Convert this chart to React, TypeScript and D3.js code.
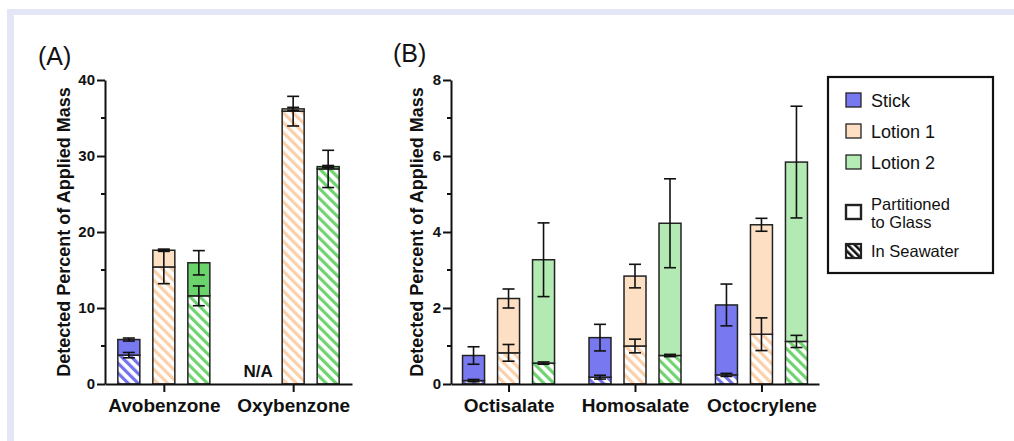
import React, { useRef, useEffect } from 'react';
import * as d3 from 'd3';

const FONT = '"Liberation Sans", Arial, Helvetica, sans-serif';

const seriesNames = ['Stick', 'Lotion 1', 'Lotion 2'];

// Panel A: rows = series (Stick, Lotion 1, Lotion 2), columns = categories
const catsA = ['Avobenzone', 'Oxybenzone'];
const seaA = [[3.8, null], [15.4, 35.9], [11.6, 28.3]];
const seaErrA = [[0.35, null], [2.2, 1.95], [1.3, 2.45]];
const glassA = [[2.05, null], [2.2, 0.3], [4.35, 0.3]];
const totalErrA = [[0.2, null], [0.15, 0.2], [1.6, 0.15]];
const ticksA = [0, 10, 20, 30, 40];
const minorA = [5, 15, 25, 35];

// Panel B
const catsB = ['Octisalate', 'Homosalate', 'Octocrylene'];
const seaB = [[0.09, 0.18, 0.24], [0.82, 1.0, 1.31], [0.55, 0.75, 1.12]];
const seaErrB = [[0.03, 0.05, 0.04], [0.22, 0.18, 0.43], [0.03, 0.03, 0.16]];
const glassB = [[0.66, 1.04, 1.84], [1.43, 1.84, 2.88], [2.72, 3.48, 4.72]];
const totalErrB = [[0.23, 0.35, 0.55], [0.25, 0.31, 0.17], [0.97, 1.17, 1.47]];
const ticksB = [0, 2, 4, 6, 8];
const minorB = [1, 3, 5, 7];

const solidA = ['#7878f0', '#fde0c3', '#6bd36b'];
const solidB = ['#7878f0', '#fde0c3', '#b3eab3'];
const hatchColors = ['#7373ee', '#fbd0a8', '#6fd46f'];
const legendColors = ['#7878f0', '#fde0c3', '#b5ebb5'];

function drawPanel(svg, cfg) {
  const g = svg.append('g');
  const y = d3.scaleLinear().domain([0, cfg.max]).range([384, 80]);
  const x = d3.scalePoint().domain(cfg.cats).range([cfg.x0, cfg.x1]).padding(0.455);
  const inner = d3.scalePoint().domain(seriesNames).range([-35, 35]);
  const bw = 22;
  const cap = 6;

  const errBar = (cx, m, e) => {
    g.append('line').attr('x1', cx).attr('x2', cx).attr('y1', y(m - e)).attr('y2', y(m + e))
      .attr('stroke', '#111').attr('stroke-width', 1.6);
    [m - e, m + e].forEach(v => {
      g.append('line').attr('x1', cx - cap).attr('x2', cx + cap).attr('y1', y(v)).attr('y2', y(v))
        .attr('stroke', '#111').attr('stroke-width', 1.6);
    });
  };

  seriesNames.forEach((s, si) => {
    cfg.cats.forEach((c, ci) => {
      const sea = cfg.sea[si][ci];
      if (sea == null) return;
      const glass = cfg.glass[si][ci];
      const cx = x(c) + inner(s);
      g.append('rect')
        .attr('x', cx - bw / 2).attr('y', y(sea))
        .attr('width', bw).attr('height', y(0) - y(sea))
        .attr('fill', `url(#hatch${si})`)
        .attr('stroke', '#222').attr('stroke-width', 1.5);
      g.append('rect')
        .attr('x', cx - bw / 2).attr('y', y(sea + glass))
        .attr('width', bw).attr('height', y(sea) - y(sea + glass))
        .attr('fill', cfg.solid[si])
        .attr('stroke', '#222').attr('stroke-width', 1.5);
    });
  });

  seriesNames.forEach((s, si) => {
    cfg.cats.forEach((c, ci) => {
      const sea = cfg.sea[si][ci];
      if (sea == null) return;
      const cx = x(c) + inner(s);
      errBar(cx, sea, cfg.seaErr[si][ci]);
      errBar(cx, sea + cfg.glass[si][ci], cfg.totalErr[si][ci]);
    });
  });

  // y axis
  const yAxis = g.append('g').attr('transform', `translate(${cfg.x0},0)`)
    .call(d3.axisLeft(y).tickValues(cfg.ticks).tickSize(8).tickSizeOuter(0).tickPadding(2));
  yAxis.selectAll('text').attr('font-family', FONT).attr('font-size', 15).attr('font-weight', 'bold').attr('fill', '#111');
  yAxis.selectAll('line').attr('stroke', '#111').attr('stroke-width', 2);
  yAxis.select('.domain').attr('stroke', '#111').attr('stroke-width', 2);
  cfg.minor.forEach(v => {
    g.append('line').attr('x1', cfg.x0 - 4).attr('x2', cfg.x0).attr('y1', y(v)).attr('y2', y(v))
      .attr('stroke', '#111').attr('stroke-width', 2);
  });

  // x axis
  const xAxis = g.append('g').attr('transform', 'translate(0,384)')
    .call(d3.axisBottom(x).tickSize(8).tickSizeOuter(0).tickPadding(7));
  xAxis.selectAll('text').attr('font-family', FONT).attr('font-size', 19).attr('font-weight', 'bold').attr('fill', '#111');
  xAxis.selectAll('line').attr('stroke', '#111').attr('stroke-width', 2);
  xAxis.select('.domain').attr('stroke', '#111').attr('stroke-width', 2.2);

  g.append('text')
    .attr('transform', `translate(${cfg.labelX},232) rotate(-90)`)
    .attr('text-anchor', 'middle')
    .attr('font-family', FONT).attr('font-size', 18).attr('font-weight', 'bold').attr('fill', '#111')
    .text('Detected Percent of Applied Mass');

  g.append('text')
    .attr('x', cfg.tagX).attr('y', cfg.tagY)
    .attr('font-family', FONT).attr('font-size', 25).attr('fill', '#111')
    .text(cfg.tag);

  return { x, y, inner };
}

function Chart() {
  const ref = useRef(null);

  useEffect(() => {
    const svg = d3.select(ref.current);
    svg.selectAll('*').remove();

    const defs = svg.append('defs');
    hatchColors.forEach((col, i) => {
      const p = defs.append('pattern').attr('id', `hatch${i}`)
        .attr('patternUnits', 'userSpaceOnUse').attr('width', 7).attr('height', 7)
        .attr('patternTransform', 'rotate(-45)');
      p.append('rect').attr('width', 7).attr('height', 7).attr('fill', '#fff');
      p.append('rect').attr('width', 3.2).attr('height', 7).attr('fill', col);
    });
    const lp = defs.append('pattern').attr('id', 'hatchLegend')
      .attr('patternUnits', 'userSpaceOnUse').attr('width', 5).attr('height', 5)
      .attr('patternTransform', 'rotate(-45)');
    lp.append('rect').attr('width', 5).attr('height', 5).attr('fill', '#fff');
    lp.append('rect').attr('width', 2.6).attr('height', 5).attr('fill', '#111');

    svg.append('rect').attr('width', 1014).attr('height', 441).attr('fill', '#fff');
    svg.append('rect').attr('x', 7).attr('y', 9).attr('width', 1007).attr('height', 6).attr('fill', '#e3e6f4');
    svg.append('rect').attr('x', 7).attr('y', 9).attr('width', 7).attr('height', 432).attr('fill', '#e3e6f4');

    const a = drawPanel(svg, {
      cats: catsA, sea: seaA, seaErr: seaErrA, glass: glassA, totalErr: totalErrA,
      max: 40, ticks: ticksA, minor: minorA, x0: 105, x1: 352, solid: solidA,
      labelX: 70, tag: '(A)', tagX: 38, tagY: 65,
    });
    svg.append('text')
      .attr('x', a.x('Oxybenzone') + a.inner('Stick')).attr('y', 377)
      .attr('text-anchor', 'middle')
      .attr('font-family', FONT).attr('font-size', 17).attr('font-weight', 'bold').attr('fill', '#111')
      .text('N/A');

    drawPanel(svg, {
      cats: catsB, sea: seaB, seaErr: seaErrB, glass: glassB, totalErr: totalErrB,
      max: 8, ticks: ticksB, minor: minorB, x0: 451, x1: 819, solid: solidB,
      labelX: 423, tag: '(B)', tagX: 393, tagY: 62,
    });

    // legend
    const lg = svg.append('g');
    lg.append('rect').attr('x', 828).attr('y', 77).attr('width', 165).attr('height', 196)
      .attr('fill', '#fff').attr('stroke', '#111').attr('stroke-width', 2.2);
    const rows = [
      { label: ['Stick'], fill: legendColors[0], cy: 100, base: [107], size: 18, sw: 1.3 },
      { label: ['Lotion 1'], fill: legendColors[1], cy: 131, base: [138], size: 18, sw: 1.3 },
      { label: ['Lotion 2'], fill: legendColors[2], cy: 162, base: [169], size: 18, sw: 1.3 },
      { label: ['Partitioned', 'to Glass'], fill: '#fff', cy: 212, base: [210, 228], size: 16.5, sw: 2.4 },
      { label: ['In Seawater'], fill: 'url(#hatchLegend)', cy: 251, base: [257], size: 16.5, sw: 2.2 },
    ];
    rows.forEach(r => {
      lg.append('rect').attr('x', 846).attr('y', r.cy - 7).attr('width', 15).attr('height', 14)
        .attr('fill', r.fill).attr('stroke', '#222').attr('stroke-width', r.sw);
      r.label.forEach((t, i) => {
        lg.append('text').attr('x', 871).attr('y', r.base[i])
          .attr('font-family', FONT).attr('font-size', r.size).attr('fill', '#111')
          .text(t);
      });
    });
  }, []);

  return <svg ref={ref} width={1014} height={441} style={{ position: 'absolute', left: 0, top: 0 }} />;
}

export default function App() {
  return <Chart />;
}
